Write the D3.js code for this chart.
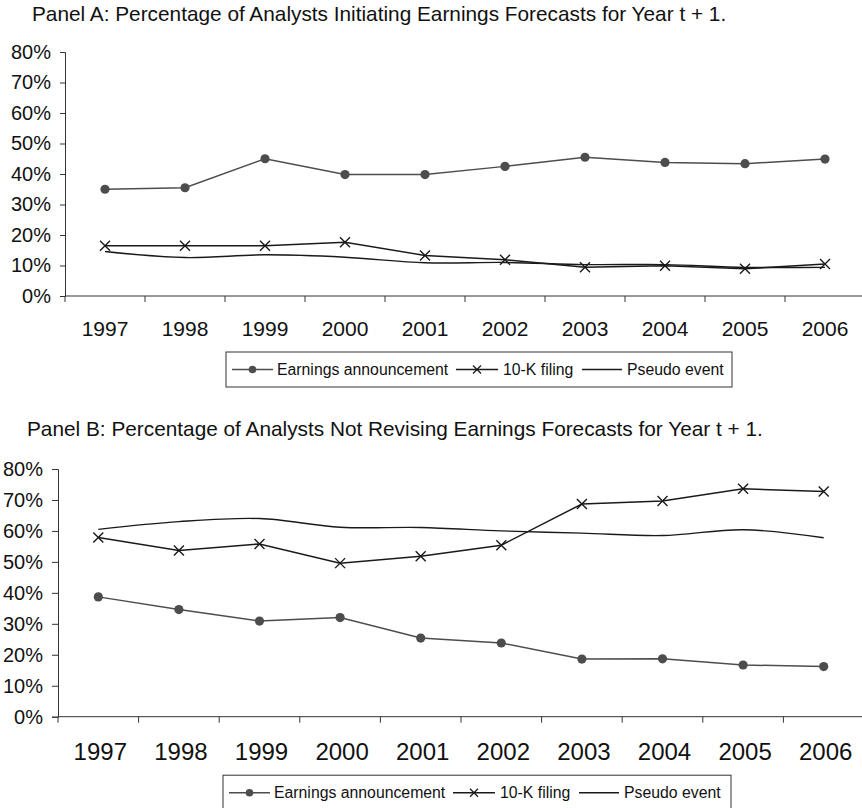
<!DOCTYPE html>
<html>
<head>
<meta charset="utf-8">
<script src="https://cdn.jsdelivr.net/npm/d3@7"></script>
<style>
  body { margin: 0; background: #fff; }
  svg { display: block; font-family: "Liberation Sans", Arial, sans-serif; }
</style>
</head>
<body>
<svg id="chart" width="862" height="808"></svg>
<script>
// categories
const years = ["1997", "1998", "1999", "2000", "2001", "2002", "2003", "2004", "2005", "2006"];
const yTicks = [0, 0.1, 0.2, 0.3, 0.4, 0.5, 0.6, 0.7, 0.8];
const seriesNames = ["Earnings announcement", "10-K filing", "Pseudo event"];

// Panel A: initiating forecasts
const aEarnings = [0.350, 0.355, 0.450, 0.398, 0.398, 0.425, 0.455, 0.438, 0.434, 0.449];
const a10K      = [0.165, 0.165, 0.165, 0.176, 0.133, 0.119, 0.094, 0.099, 0.089, 0.105];
const aPseudo   = [0.146, 0.126, 0.135, 0.127, 0.109, 0.110, 0.103, 0.103, 0.094, 0.094];

// Panel B: not revising forecasts
const bEarnings = [0.387, 0.346, 0.309, 0.320, 0.254, 0.238, 0.186, 0.187, 0.167, 0.162];
const b10K      = [0.579, 0.537, 0.558, 0.496, 0.518, 0.554, 0.687, 0.697, 0.736, 0.727];
const bPseudo   = [0.605, 0.630, 0.640, 0.612, 0.611, 0.600, 0.593, 0.585, 0.604, 0.578];

const svg = d3.select("#chart");
const ink = "#1a1a1a";
const grey = "#4d4d4d";

function drawPanel(cfg) {
  const g = svg.append("g");

  // title
  g.append("text").attr("x", cfg.titleX).attr("y", cfg.titleY)
    .attr("font-size", 20.8).attr("fill", "#111").text(cfg.title);

  const x = d3.scaleBand().domain(years).range([cfg.left, cfg.right]).paddingInner(0);
  const y = d3.scaleLinear().domain([0, 0.8]).range([cfg.bottom, cfg.top]);
  const cx = d => x(d) + x.bandwidth() / 2;

  // y axis
  const yAxis = g.append("g").attr("transform", `translate(${cfg.left},0)`)
    .call(d3.axisLeft(y).tickValues(yTicks).tickFormat(d3.format(".0%")).tickSize(cfg.yTick).tickPadding(cfg.yPad));
  yAxis.select(".domain").attr("stroke", "#333");
  yAxis.selectAll(".tick line").attr("stroke", "#333");
  yAxis.selectAll("text").attr("font-size", 20).attr("fill", "#111")
    .attr("font-family", "Liberation Sans, Arial, sans-serif");

  // x axis: line + ticks between categories
  g.append("line").attr("x1", cfg.left).attr("x2", cfg.right)
    .attr("y1", cfg.bottom).attr("y2", cfg.bottom).attr("stroke", "#333");
  g.selectAll(".xt").data(years).enter().append("line")
    .attr("x1", d => x(d)).attr("x2", d => x(d))
    .attr("y1", cfg.bottom).attr("y2", cfg.bottom + 6).attr("stroke", "#333");
  g.selectAll(".xl").data(years).enter().append("text")
    .attr("x", d => cx(d) + cfg.xLabelShift).attr("y", cfg.xLabelY)
    .attr("text-anchor", "middle").attr("font-size", cfg.xFont).attr("fill", "#111")
    .text(d => d);

  const straight = d3.line().x((d, i) => cx(years[i])).y(d => y(d));
  const smooth = d3.line().x((d, i) => cx(years[i])).y(d => y(d)).curve(d3.curveCatmullRom.alpha(0.5));

  // pseudo event
  g.append("path").datum(cfg.pseudo).attr("d", smooth)
    .attr("fill", "none").attr("stroke", ink).attr("stroke-width", 1.4);

  // 10-K filing
  g.append("path").datum(cfg.tenK).attr("d", straight)
    .attr("fill", "none").attr("stroke", ink).attr("stroke-width", 1.5);
  g.selectAll(".xm").data(cfg.tenK).enter().append("path")
    .attr("transform", (d, i) => `translate(${cx(years[i])},${y(d)})`)
    .attr("d", "M-5,-5L5,5M-5,5L5,-5")
    .attr("stroke", ink).attr("stroke-width", 1.4).attr("fill", "none");

  // earnings announcement
  g.append("path").datum(cfg.earnings).attr("d", straight)
    .attr("fill", "none").attr("stroke", grey).attr("stroke-width", 1.5);
  g.selectAll(".cm").data(cfg.earnings).enter().append("circle")
    .attr("cx", (d, i) => cx(years[i])).attr("cy", d => y(d)).attr("r", 4.6)
    .attr("fill", grey);

  // legend
  const lg = g.append("g").attr("transform", `translate(${cfg.legX},${cfg.legY})`);
  lg.append("rect").attr("x", 0).attr("y", -cfg.legH / 2).attr("width", cfg.legW).attr("height", cfg.legH)
    .attr("fill", "#fff").attr("stroke", "#333").attr("stroke-width", 1);
  const items = [
    { name: seriesNames[0], x0: 6, x1: 47, text: 51, mark: "dot", color: grey },
    { name: seriesNames[1], x0: 230, x1: 272, text: 277, mark: "x", color: ink },
    { name: seriesNames[2], x0: 356, x1: 396, text: 401, mark: "none", color: ink }
  ];
  items.forEach(it => {
    lg.append("line").attr("x1", it.x0).attr("x2", it.x1).attr("y1", 0).attr("y2", 0)
      .attr("stroke", it.color).attr("stroke-width", 1.4);
    const mx = (it.x0 + it.x1) / 2;
    if (it.mark === "dot") {
      lg.append("circle").attr("cx", mx).attr("cy", 0).attr("r", 3.8).attr("fill", it.color);
    } else if (it.mark === "x") {
      lg.append("path").attr("d", `M${mx - 4},-4L${mx + 4},4M${mx - 4},4L${mx + 4},-4`)
        .attr("stroke", it.color).attr("stroke-width", 1.3);
    }
    lg.append("text").attr("x", it.text).attr("y", 0).attr("dy", "0.35em")
      .attr("font-size", 15.8).attr("fill", "#111").text(it.name);
  });
}

drawPanel({
  title: "Panel A: Percentage of Analysts Initiating Earnings Forecasts for Year t + 1.",
  titleX: 32, titleY: 21,
  left: 65, right: 865, top: 52, bottom: 296,
  yTick: 5, yPad: 9,
  xLabelY: 336, xFont: 21, xLabelShift: 0,
  earnings: aEarnings, tenK: a10K, pseudo: aPseudo,
  legX: 226, legY: 369.5, legW: 506, legH: 35
});

drawPanel({
  title: "Panel B: Percentage of Analysts Not Revising Earnings Forecasts for Year t + 1.",
  titleX: 27, titleY: 436,
  left: 58, right: 864, top: 469, bottom: 716.7,
  yTick: 6, yPad: 9,
  xLabelY: 760, xFont: 24, xLabelShift: 2,
  earnings: bEarnings, tenK: b10K, pseudo: bPseudo,
  legX: 223, legY: 792.7, legW: 508, legH: 35
});
</script>
</body>
</html>
